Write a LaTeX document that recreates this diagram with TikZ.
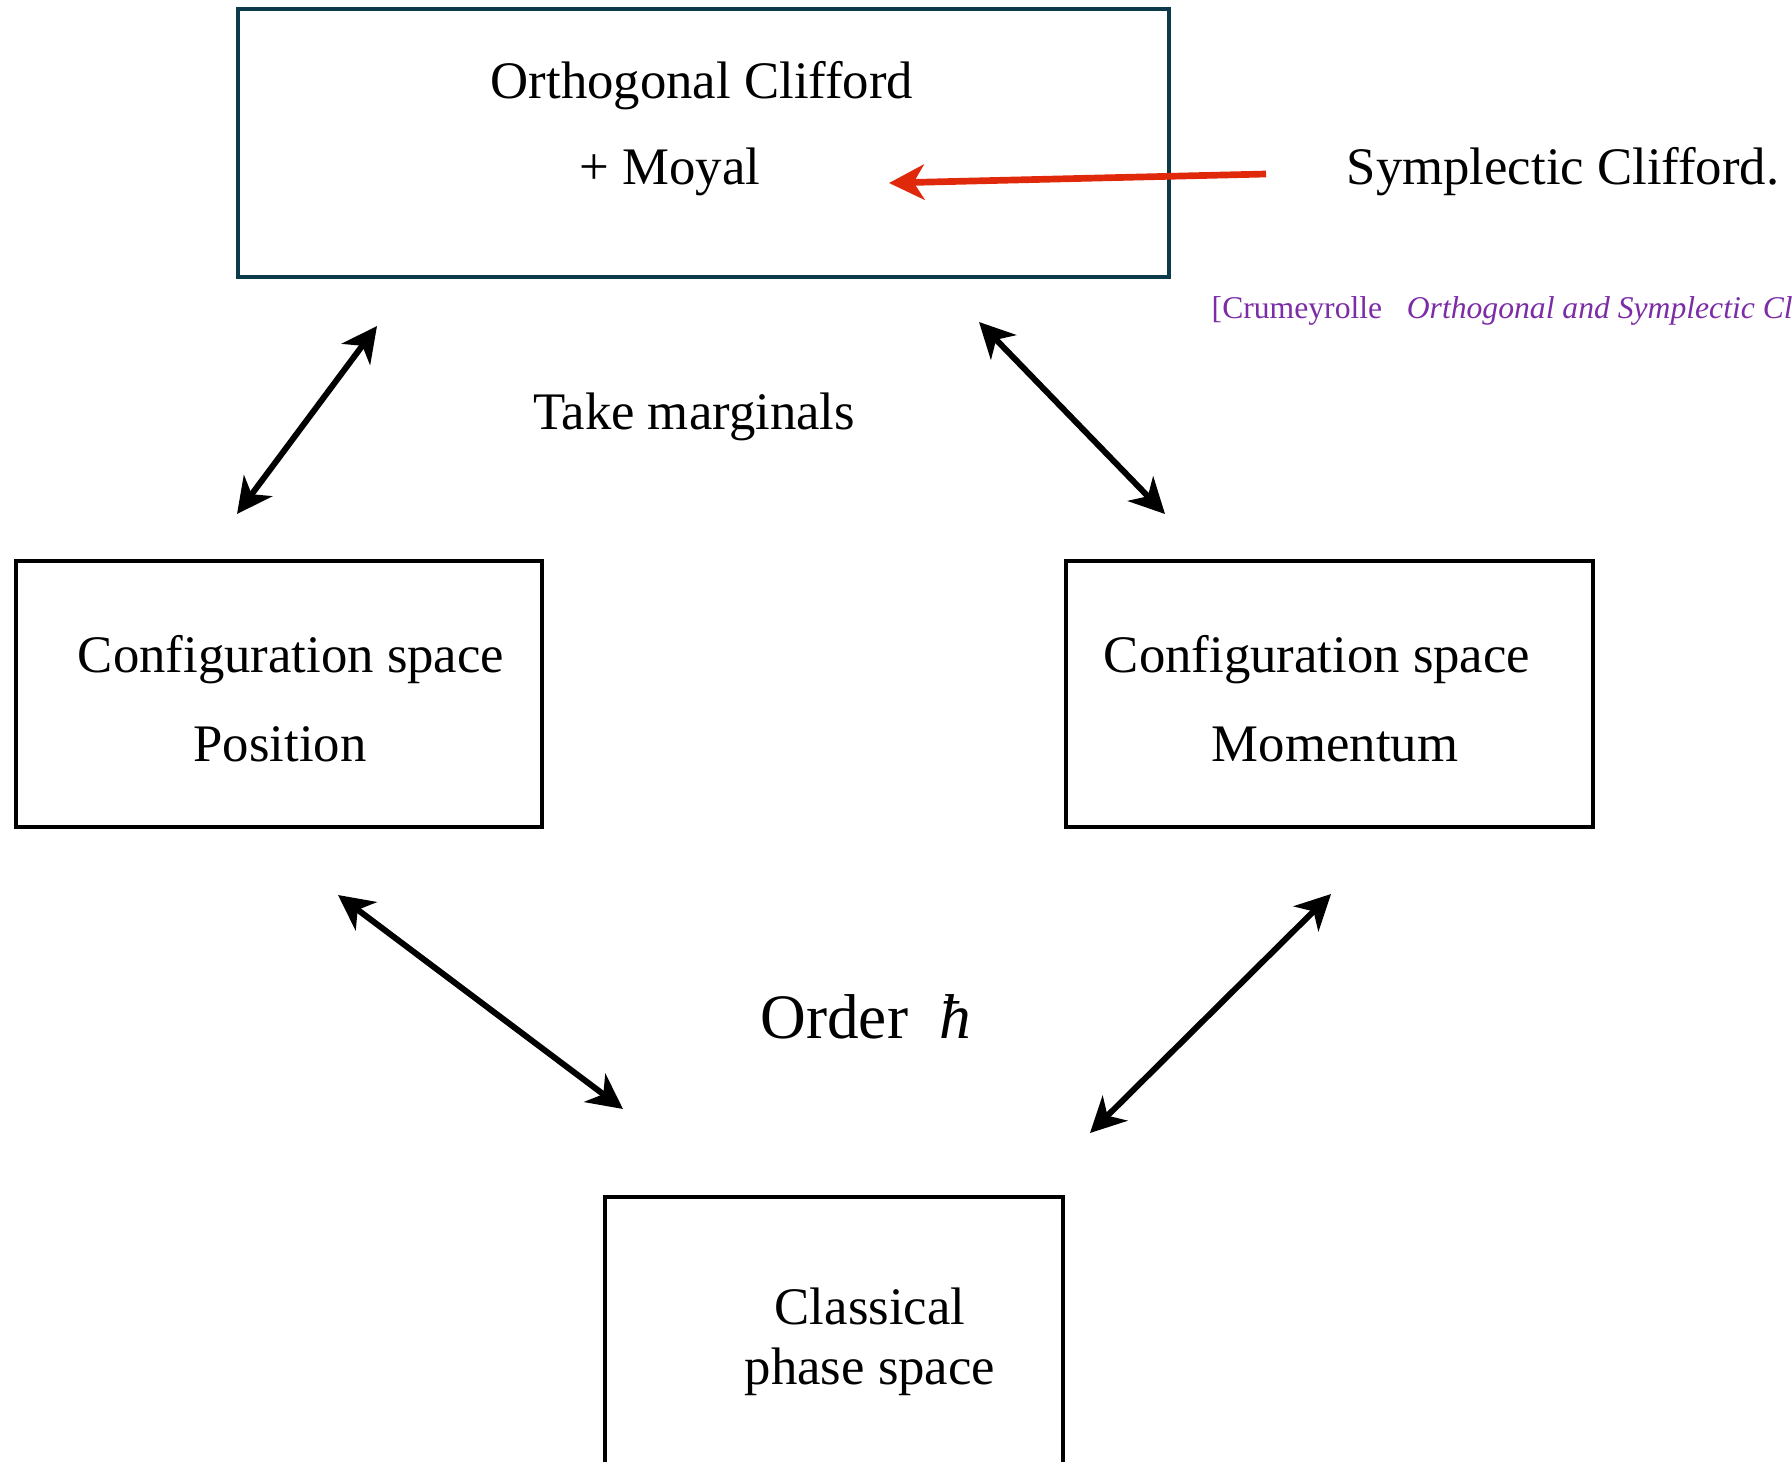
\documentclass[tikz,border=0pt]{standalone}
\usepackage{fontspec}
\setmainfont{Liberation Serif}
\usepackage{tikz}
\usetikzlibrary{arrows.meta}
\definecolor{boxteal}{HTML}{0D3A4A}
\definecolor{arrowred}{HTML}{E0280A}
\definecolor{citepurple}{HTML}{7B2CA6}

\begin{document}
\begin{tikzpicture}[x=0.01cm,y=-0.01cm]
    \clip (0,0) rectangle (1792,1461);
    \begin{scope}[every node/.style={rectangle,draw=black,line width=1.2pt,inner sep=0pt}]
      \node[draw=boxteal,minimum width=9.31cm,minimum height=2.68cm] (Top) at (703.5,143) {};
      \node[minimum width=5.26cm,minimum height=2.66cm] (Pos) at (279,694) {};
      \node[minimum width=5.27cm,minimum height=2.66cm] (Mom) at (1329.5,694) {};
      \node[minimum width=4.58cm,minimum height=3.2cm] (Cls) at (834,1357) {};
    \end{scope}

    \begin{scope}[every node/.style={font=\fontsize{15}{18}\selectfont,inner sep=0pt}]
      \node (T1) at (702,86) {Orthogonal Clifford};
      \node (T2) at (670,172) {+ Moyal};
      \node[anchor=west] (S) at (1346,172) {Symplectic Clifford.};
      \node (M) at (694,417) {Take marginals};
      \node (P1) at (291,660) {Configuration space};
      \node (P2) at (280,744) {Position};
      \node (Q1) at (1317,660) {Configuration space};
      \node (Q2) at (1335,744) {Momentum};
      \node (C1) at (870,1306) {Classical};
      \node (C2) at (870,1372) {phase space};
      \node[font=\fontsize{18}{22}\selectfont] (H) at (866,1017) {Order\ \ \textit{ħ}};
      \node[anchor=west,font=\fontsize{9}{11}\selectfont,text=citepurple] (R) at (1211,311)
           {[Crumeyrolle\hspace{7pt}\textit{Orthogonal and Symplectic Clifford Algebras}]};
    \end{scope}

    \coordinate (a1) at (237,514);  \coordinate (a2) at (377,326);
    \coordinate (b1) at (979,322);  \coordinate (b2) at (1165,514);
    \coordinate (c1) at (338,895);  \coordinate (c2) at (623,1109);
    \coordinate (d1) at (1331,894); \coordinate (d2) at (1090,1133);
    \coordinate (e1) at (1266,174); \coordinate (e2) at (889,183);

    \begin{scope}[>={Stealth[length=10pt,width=10pt,inset=3pt]},
        every edge/.style={draw=black,line width=1.7pt}]
      \path [<->] (a1) edge (a2);
      \path [<->] (b1) edge (b2);
      \path [<->] (c1) edge (c2);
      \path [<->] (d1) edge (d2);
      \path [->] (e1) edge[draw=arrowred,line width=1.9pt] (e2);
    \end{scope}
  \end{tikzpicture}
\end{document}
